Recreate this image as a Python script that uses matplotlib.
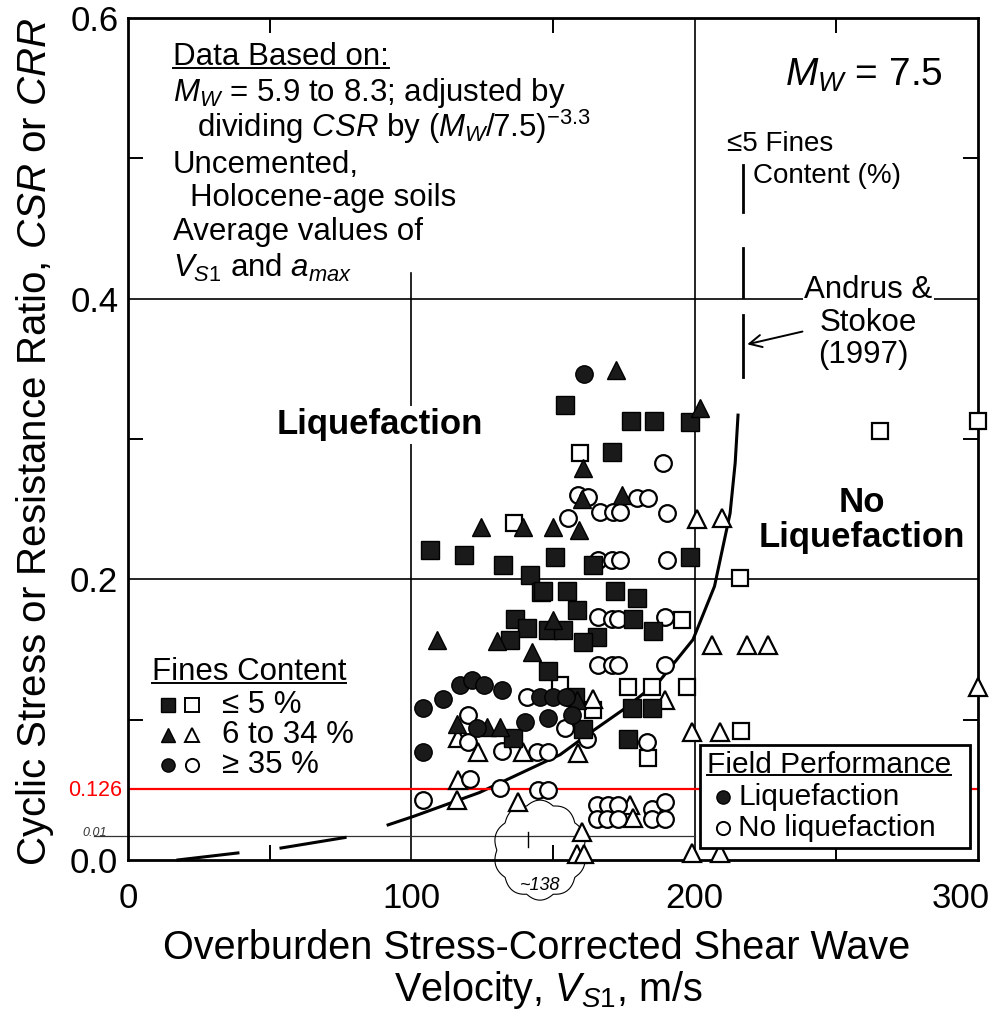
import numpy as np
import matplotlib
matplotlib.use('Agg')
import matplotlib.pyplot as plt
from matplotlib.patches import Rectangle
from matplotlib.transforms import ScaledTranslation

plt.rcParams['font.family'] = ['Liberation Sans', 'DejaVu Sans']
plt.rcParams['mathtext.fontset'] = 'custom'
plt.rcParams['mathtext.rm'] = 'Liberation Sans'
plt.rcParams['mathtext.it'] = 'Liberation Sans:italic'
plt.rcParams['mathtext.bf'] = 'Liberation Sans:bold'

# ---- data (Vs1 in m/s, CSR) ----
# fines <= 5 %, liquefaction (filled squares)
sq_liq_x = [106.6, 118.6, 132.4, 154.3, 170.8, 177.6, 185.7, 198.4, 198.4, 141.9,
            145.8, 150.7, 164.1, 155.0, 158.5, 146.5, 171.9, 179.7, 178.3, 185.3,
            165.5, 136.6, 140.8, 134.8, 148.3, 153.5, 160.6, 148.3, 178.0, 185.0,
            176.5, 135.9, 157.8, 160.6]
sq_liq_y = [0.221, 0.217, 0.210, 0.324, 0.291, 0.313, 0.313, 0.312, 0.216, 0.203,
            0.191, 0.216, 0.210, 0.192, 0.178, 0.192, 0.192, 0.187, 0.172, 0.163,
            0.159, 0.172, 0.165, 0.157, 0.164, 0.164, 0.155, 0.135, 0.108, 0.108,
            0.086, 0.087, 0.116, 0.093]
# fines <= 5 %, no liquefaction (open squares)
sq_non_x = [136.3, 159.5, 176.5, 185.0, 197.3, 195.6, 152.5, 164.1, 183.5, 216.0, 216.4, 265.4, 300.0]
sq_non_y = [0.240, 0.290, 0.123, 0.123, 0.123, 0.171, 0.125, 0.107, 0.073, 0.201, 0.092, 0.306, 0.313]

# fines 6 to 34 %, liquefaction (filled triangles)
tri_liq_x = [109.1, 124.6, 139.4, 150.0, 159.2, 172.3, 160.6, 160.3, 174.4, 201.9,
             130.3, 142.6, 150.0, 116.1, 126.7, 131.3, 158.5]
tri_liq_y = [0.157, 0.237, 0.237, 0.237, 0.235, 0.349, 0.279, 0.257, 0.260, 0.322,
             0.156, 0.148, 0.171, 0.097, 0.095, 0.095, 0.114]
# fines 6 to 34 %, no liquefaction (open triangles)
tri_non_x = [200.8, 209.7, 206.1, 218.5, 225.9, 300.0, 199.1, 209.0, 199.1, 209.0,
             189.5, 164.1, 158.8, 160.3, 158.5, 161.0, 116.5, 116.1, 137.7, 123.5,
             139.4, 177.2, 178.3, 116.5]
tri_non_y = [0.243, 0.244, 0.153, 0.153, 0.153, 0.123, 0.091, 0.091, 0.005, 0.005,
             0.114, 0.115, 0.076, 0.020, 0.004, 0.004, 0.057, 0.043, 0.041, 0.077,
             0.077, 0.039, 0.030, 0.087]

# fines >= 35 %, liquefaction (filled circles)
cir_liq_x = [161.0, 104.1, 111.2, 117.2, 121.4, 125.7, 132.0, 104.1, 145.4, 150.0,
             154.6, 148.3, 156.7, 140.1, 123.2]
cir_liq_y = [0.346, 0.108, 0.115, 0.125, 0.128, 0.125, 0.121, 0.077, 0.116, 0.116,
             0.116, 0.101, 0.103, 0.098, 0.094]
# fines >= 35 %, no liquefaction (open circles)
cir_non_x = [188.8, 158.8, 162.4, 179.7, 183.5, 155.3, 166.6, 171.2, 173.7, 190.3,
             165.9, 170.8, 173.7, 190.3, 165.9, 170.8, 173.0, 189.5, 165.9, 170.8,
             173.0, 189.5, 183.2, 154.3, 162.0, 144.7, 148.3, 104.1, 120.7, 131.3,
             120.0, 120.0, 132.0, 144.4, 148.3, 140.8, 165.5, 169.4, 173.0, 165.5,
             169.1, 173.0, 185.0, 189.5, 185.0, 189.5]
cir_non_y = [0.283, 0.260, 0.259, 0.258, 0.258, 0.244, 0.248, 0.248, 0.248, 0.247,
             0.214, 0.214, 0.214, 0.214, 0.173, 0.172, 0.172, 0.173, 0.139, 0.139,
             0.139, 0.139, 0.084, 0.094, 0.086, 0.050, 0.050, 0.043, 0.058, 0.051,
             0.103, 0.084, 0.078, 0.077, 0.077, 0.116, 0.039, 0.039, 0.039, 0.029,
             0.029, 0.029, 0.036, 0.041, 0.029, 0.029]

# Andrus & Stokoe (1997) boundary curve, traced
curve_x = [91.8, 100.7, 124.0, 152.5, 163.0, 174.7, 187.8, 199.4, 207.0, 212.5, 214.3, 215.3]
curve_y = [0.025, 0.031, 0.048, 0.075, 0.0905, 0.107, 0.128, 0.157, 0.195, 0.247, 0.283, 0.317]
curve_dash_x = [[17.6, 38.8], [54.0, 76.6]]
curve_dash_y = [[0.0, 0.005], [0.0085, 0.016]]
asym_x = 217.2
asym_y = [[0.462, 0.495], [0.401, 0.436], [0.344, 0.388]]

red_level = 0.0506   # red marker line (labelled 0.126)
hand_level = 0.0171  # hand drawn line
x_ticks = [0, 100, 200, 300]
y_ticks = [0.0, 0.2, 0.4, 0.6]
y_ticklabels = ['0.0', '0.2', '0.4', '0.6']

fig = plt.figure(figsize=(10, 10.11), dpi=100)
ax = fig.add_axes([0.128, 0.1494, 0.85, 0.8328])
ax.set_xlim(0, 300); ax.set_ylim(0, 0.6)

ax.set_xticks(x_ticks); ax.set_xticklabels([str(v) for v in x_ticks])
ax.set_yticks(y_ticks); ax.set_yticklabels(y_ticklabels)
ax.set_xticks([50, 150, 250], minor=True); ax.set_yticks([0.1, 0.3, 0.5], minor=True)
ax.tick_params(which='major', length=0, labelsize=25)
ax.tick_params(axis='x', which='major', pad=16)
ax.tick_params(axis='y', which='major', pad=7)
ax.tick_params(which='minor', direction='in', length=11, width=1.4, top=True, right=True)
for sp in ax.spines.values():
    sp.set_linewidth(2.0)
last = ax.xaxis.get_majorticklabels()[-1]
last.set_transform(last.get_transform() + ScaledTranslation(-0.17, 0, fig.dpi_scale_trans))

# grid lines
ax.axhline(0.2, color='k', lw=1.2, zorder=1)
ax.axhline(0.4, color='k', lw=1.2, zorder=1)
ax.axvline(200, color='k', lw=1.2, zorder=1)
ax.plot([100, 100], [0, 0.418], color='k', lw=1.2, zorder=1)

# boundary curve
ax.plot(curve_x, curve_y, color='k', lw=2.2, zorder=2)
for xs, ys in zip(curve_dash_x, curve_dash_y):
    ax.plot(xs, ys, color='k', lw=2.2, zorder=2, clip_on=False)
for ys in asym_y:
    ax.plot([asym_x, asym_x], ys, color='k', lw=2.0, zorder=2)

# hand annotations
ax.axhline(red_level, color='red', lw=1.6, zorder=2)
fig.text(0.122, 1 - 790 / 1011, '0.126', color='red', fontsize=15.5, ha='right', va='center')
ax.plot([-12, 200], [hand_level, hand_level], color='#333333', lw=0.9, zorder=1, clip_on=False)
fig.text(0.082, 1 - 833 / 1011, '0.01', fontsize=9, ha='left', va='center', color='#333333', style='italic')
t = np.linspace(0, 2 * np.pi, 400)
r = 1 + 0.08 * np.abs(np.sin(5 * t))
ax.plot(145.4 + 15.2 * r * np.cos(t), 0.007 + 0.033 * r * np.sin(t), color='k', lw=0.8,
        clip_on=False, zorder=2)
ax.plot([141.0, 141.0], [0.009, 0.020], color='k', lw=1.0, zorder=2)
ax.text(145.4, -0.018, '~138', fontsize=13, ha='center', va='center', style='italic')

# points
mk = dict(linestyle='none', markeredgecolor='k', zorder=4, clip_on=False)
ax.plot(sq_non_x, sq_non_y, marker='s', ms=12, mfc='white', mew=1.6, **mk)
ax.plot(tri_non_x, tri_non_y, marker='^', ms=13, mfc='white', mew=1.6, **mk)
ax.plot(cir_non_x, cir_non_y, marker='o', ms=12, mfc='white', mew=1.6, **mk)
ax.plot(sq_liq_x, sq_liq_y, marker='s', ms=12.5, mfc='#1a1a1a', mew=1.0, **mk)
ax.plot(tri_liq_x, tri_liq_y, marker='^', ms=13.5, mfc='#1a1a1a', mew=1.0, **mk)
ax.plot(cir_liq_x, cir_liq_y, marker='o', ms=12.5, mfc='#1a1a1a', mew=1.0, **mk)

# texts
fs = 22.5
def underline(txt, lw=1.4, lift=0.004):
    fig.canvas.draw()
    bb = txt.get_window_extent().transformed(fig.transFigure.inverted())
    fig.add_artist(plt.Line2D([bb.x0, bb.x1], [bb.y0 + lift, bb.y0 + lift],
                              transform=fig.transFigure, color='k', lw=lw, zorder=7))

block = [(0.053, 0.954, 'Data Based on:'),
         (0.053, 0.911, r'$M_W$ = 5.9 to 8.3; adjusted by'),
         (0.081, 0.871, r'dividing $CSR$ by ($M_W$/7.5)$^{-3.3}$'),
         (0.053, 0.825, 'Uncemented,'),
         (0.073, 0.786, 'Holocene-age soils'),
         (0.053, 0.746, 'Average values of'),
         (0.053, 0.703, r'$V_{S1}$ and $a_{max}$')]
head = None
for bx, by, s in block:
    tt = ax.text(bx, by, s, transform=ax.transAxes, fontsize=fs, ha='left', va='center', zorder=6)
    if head is None:
        head = tt
underline(head)

ax.text(0.773, 0.932, r'$M_W$ = 7.5', transform=ax.transAxes, fontsize=28, ha='left', va='center')
ax.text(211.4, 0.510, u'\u22645 Fines', fontsize=20, ha='left', va='center')
ax.text(220.6, 0.4875, 'Content (%)', fontsize=20, ha='left', va='center')
ax.text(261.3, 0.406, 'Andrus &', fontsize=fs, ha='center', va='center', zorder=6,
        bbox=dict(facecolor='white', edgecolor='none', pad=1))
ax.text(261.3, 0.383, 'Stokoe', fontsize=fs, ha='center', va='center')
ax.text(259.5, 0.360, '(1997)', fontsize=fs, ha='center', va='center')
ax.annotate('', xy=(217.6, 0.367), xytext=(239.0, 0.377),
            arrowprops=dict(arrowstyle='->', lw=1.4, color='k', mutation_scale=22))

ax.text(89, 0.310, 'Liquefaction', fontsize=25, fontweight='bold', ha='center', va='center', zorder=6,
        bbox=dict(facecolor='white', edgecolor='none', pad=2))
ax.text(259, 0.255, 'No', fontsize=25, fontweight='bold', ha='center', va='center')
ax.text(259, 0.2295, 'Liquefaction', fontsize=25, fontweight='bold', ha='center', va='center')

# fines content key
fc = ax.text(0.028, 0.223, 'Fines Content', transform=ax.transAxes, fontsize=fs, ha='left', va='center')
underline(fc)
key = [('s', 9.5, u'\u2264 5 %', 0.184), ('^', 10.5, '6 to 34 %', 0.148), ('o', 9.5, u'\u2265 35 %', 0.113)]
for m, s, lab, ky in key:
    ax.plot([0.047], [ky], transform=ax.transAxes, marker=m, ms=s, mfc='#1a1a1a', mec='k', linestyle='none')
    ax.plot([0.075], [ky], transform=ax.transAxes, marker=m, ms=s, mfc='white', mec='k', mew=1.4, linestyle='none')
    ax.text(0.111, ky, lab, transform=ax.transAxes, fontsize=fs, ha='left', va='center')

# field performance key
fs_fp = 21.5
ax.add_patch(Rectangle((0.673, 0.014), 0.318, 0.123, transform=ax.transAxes, facecolor='white',
                       edgecolor='k', lw=2.0, zorder=5))
fp = ax.text(0.681, 0.113, 'Field Performance', transform=ax.transAxes, fontsize=fs_fp, ha='left',
             va='center', zorder=6)
underline(fp)
ax.plot([0.700], [0.075], transform=ax.transAxes, marker='o', ms=9.5, mfc='#1a1a1a', mec='k',
        linestyle='none', zorder=6)
ax.text(0.718, 0.075, 'Liquefaction', transform=ax.transAxes, fontsize=fs_fp, ha='left', va='center', zorder=6)
ax.plot([0.700], [0.038], transform=ax.transAxes, marker='o', ms=9.5, mfc='white', mec='k', mew=1.4,
        linestyle='none', zorder=6)
ax.text(0.718, 0.038, 'No liquefaction', transform=ax.transAxes, fontsize=fs_fp, ha='left', va='center', zorder=6)

# axis labels
fig.text(0.035, 0.563, r'Cyclic Stress or Resistance Ratio, $CSR$ or $CRR$', rotation=90,
         fontsize=29, ha='center', va='center')
fig.text(0.537, 1 - 948 / 1011, 'Overburden Stress-Corrected Shear Wave', fontsize=28.5, ha='center', va='center')
fig.text(0.548, 1 - 990 / 1011, r'Velocity, $V_{S1}$, m/s', fontsize=28.5, ha='center', va='center')

fig.savefig('out.png', dpi=100)
